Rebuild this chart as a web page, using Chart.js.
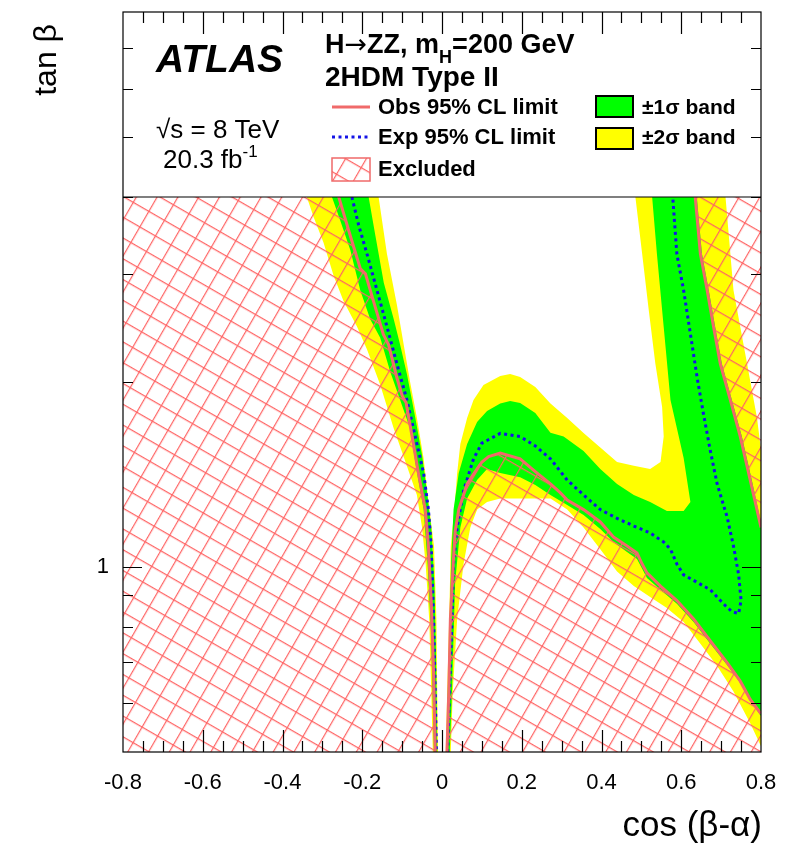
<!DOCTYPE html>
<html>
<head>
<meta charset="utf-8">
<title>H to ZZ 2HDM Type II limits</title>
<script src="https://cdn.jsdelivr.net/npm/chart.js@4.4.0/dist/chart.umd.min.js"></script>
<style>
	html, body { margin: 0; padding: 0; background: #fff; }
	canvas { display: block; }
</style>
</head>
<body>
<canvas id="limitChart" width="806" height="849"></canvas>
<script>
"use strict";

// axis ranges and tick values
var xMin = -0.8, xMax = 0.8, yMin = 0.5, yMax = 8, yBox = 4, yTop = 4.3;
var xTickVals = [-0.8, -0.6, -0.4, -0.2, 0, 0.2, 0.4, 0.6, 0.8];
var xTickLabels = ["-0.8", "-0.6", "-0.4", "-0.2", "0", "0.2", "0.4", "0.6", "0.8"];
var yTickVals = [0.6, 0.7, 0.8, 0.9, 1, 2, 3, 4, 5, 6, 7];
var yLabelVals = [1];

// observed limit, left branch (top -> bottom)
var obsLeftX = [-0.265, -0.259, -0.230, -0.205, -0.192, -0.172, -0.147, -0.134, -0.113, -0.100, -0.090, -0.075, -0.059, -0.042, -0.034, -0.027, -0.021, -0.017];
var obsLeftY = [4.3, 4.0, 3.46, 3.06, 3.00, 2.71, 2.39, 2.30, 2.03, 1.90, 1.85, 1.63, 1.42, 1.24, 1.08, 0.88, 0.67, 0.5];

// observed limit, right branch (bottom -> right edge)
var obsRightX = [0.0125, 0.017, 0.021, 0.028, 0.033, 0.042, 0.063, 0.088, 0.100, 0.117, 0.146, 0.196, 0.234, 0.272, 0.297, 0.314, 0.355, 0.397, 0.430, 0.464, 0.489, 0.502, 0.514, 0.548, 0.589, 0.631, 0.673, 0.715, 0.748, 0.773, 0.8];
var obsRightY = [0.5, 0.626, 0.823, 1.011, 1.144, 1.24, 1.365, 1.444, 1.482, 1.513, 1.533, 1.50, 1.43, 1.365, 1.32, 1.285, 1.24, 1.184, 1.119, 1.082, 1.054, 1.011, 0.978, 0.931, 0.882, 0.823, 0.758, 0.699, 0.652, 0.609, 0.577];

// observed limit, upper right branch (top -> right edge)
var obsTopX = [0.631, 0.635, 0.648, 0.665, 0.681, 0.698, 0.723, 0.748, 0.773, 0.8];
var obsTopY = [4.3, 4.0, 3.23, 2.82, 2.46, 2.14, 1.87, 1.63, 1.384, 1.16];

// expected limit
var expLeftX = [-0.232, -0.226, -0.209, -0.188, -0.163, -0.138, -0.113, -0.088, -0.067, -0.046, -0.034, -0.027, -0.021, -0.017, -0.014];
var expLeftY = [4.3, 4.0, 3.60, 3.23, 2.82, 2.46, 2.14, 1.87, 1.63, 1.42, 1.24, 1.08, 0.82, 0.63, 0.5];
var expRightX = [0.014, 0.019, 0.025, 0.029, 0.038, 0.054, 0.079, 0.100, 0.146, 0.196, 0.234, 0.272, 0.314, 0.355, 0.397, 0.439, 0.481, 0.522, 0.556, 0.573, 0.589, 0.606, 0.640, 0.673, 0.706, 0.727, 0.744, 0.750, 0.744, 0.731, 0.715, 0.690, 0.673, 0.656, 0.640, 0.623, 0.606, 0.589, 0.579, 0.575];
var expRightY = [0.5, 0.63, 0.82, 1.01, 1.16, 1.33, 1.50, 1.59, 1.65, 1.63, 1.574, 1.50, 1.385, 1.31, 1.24, 1.20, 1.166, 1.136, 1.098, 1.069, 1.011, 0.971, 0.944, 0.918, 0.871, 0.846, 0.840, 0.882, 0.971, 1.082, 1.206, 1.365, 1.545, 1.770, 2.030, 2.394, 2.818, 3.23, 3.97, 4.3];

// +-1 sigma band outlines
var greenLeftX = [-0.282, -0.276, -0.255, -0.230, -0.205, -0.180, -0.155, -0.130, -0.105, -0.080, -0.064, -0.046, -0.036, -0.027, -0.020, -0.012, -0.015, -0.019, -0.027, -0.038, -0.050, -0.067, -0.088, -0.105, -0.121, -0.146, -0.167, -0.184, -0.190];
var greenLeftY = [4.3, 4.0, 3.66, 3.28, 2.82, 2.53, 2.36, 2.08, 1.87, 1.68, 1.44, 1.24, 1.01, 0.77, 0.5, 0.5, 0.72, 0.94, 1.16, 1.33, 1.52, 1.75, 2.06, 2.30, 2.53, 2.90, 3.46, 4.0, 4.3];
var greenRightX = [0.640, 0.639, 0.652, 0.669, 0.685, 0.702, 0.727, 0.752, 0.777, 0.8, 0.8, 0.773, 0.748, 0.715, 0.673, 0.631, 0.589, 0.548, 0.514, 0.502, 0.489, 0.464, 0.430, 0.397, 0.355, 0.314, 0.272, 0.234, 0.196, 0.146, 0.113, 0.088, 0.063, 0.046, 0.033, 0.025, 0.0195, 0.011, 0.0145, 0.0195, 0.023, 0.029, 0.042, 0.063, 0.088, 0.113, 0.146, 0.171, 0.196, 0.234, 0.272, 0.305, 0.355, 0.397, 0.439, 0.481, 0.522, 0.564, 0.606, 0.623, 0.606, 0.573, 0.556, 0.539, 0.527, 0.525];
var greenRightY = [4.3, 4.0, 3.23, 2.82, 2.46, 2.14, 1.87, 1.63, 1.384, 1.18, 0.572, 0.605, 0.648, 0.693, 0.750, 0.814, 0.871, 0.918, 0.960, 0.993, 1.030, 1.058, 1.098, 1.153, 1.215, 1.261, 1.31, 1.36, 1.40, 1.422, 1.444, 1.385, 1.292, 1.159, 0.944, 0.626, 0.5, 0.5, 0.626, 0.823, 1.023, 1.24, 1.422, 1.585, 1.722, 1.794, 1.845, 1.863, 1.849, 1.781, 1.653, 1.631, 1.545, 1.444, 1.365, 1.310, 1.276, 1.233, 1.233, 1.276, 1.504, 1.870, 2.458, 3.23, 4.0, 4.3];

// +-2 sigma band outlines
var yellowLeftX = [-0.345, -0.339, -0.322, -0.297, -0.272, -0.247, -0.213, -0.188, -0.155, -0.121, -0.088, -0.063, -0.050, -0.041, -0.032, -0.027, -0.023, -0.010, -0.012, -0.014, -0.020, -0.034, -0.046, -0.063, -0.080, -0.096, -0.113, -0.138, -0.159, -0.165];
var yellowLeftY = [4.3, 4.0, 3.71, 3.37, 2.98, 2.71, 2.46, 2.26, 1.98, 1.68, 1.46, 1.31, 1.16, 1.01, 0.82, 0.63, 0.5, 0.5, 0.63, 0.82, 1.08, 1.28, 1.50, 1.75, 2.00, 2.30, 2.67, 3.23, 4.0, 4.3];
var yellowRightX = [0.715, 0.711, 0.731, 0.765, 0.790, 0.8, 0.8, 0.773, 0.731, 0.690, 0.648, 0.606, 0.564, 0.522, 0.481, 0.439, 0.397, 0.355, 0.314, 0.272, 0.146, 0.113, 0.088, 0.071, 0.054, 0.038, 0.027, 0.022, 0.0095, 0.013, 0.018, 0.022, 0.031, 0.038, 0.046, 0.063, 0.079, 0.104, 0.146, 0.171, 0.196, 0.234, 0.272, 0.314, 0.355, 0.397, 0.439, 0.481, 0.522, 0.548, 0.556, 0.552, 0.535, 0.518, 0.502, 0.485, 0.482];
var yellowRightY = [4.3, 4.0, 2.82, 2.144, 1.748, 1.55, 0.511, 0.557, 0.627, 0.690, 0.750, 0.814, 0.858, 0.894, 0.931, 0.983, 1.069, 1.159, 1.24, 1.292, 1.292, 1.276, 1.24, 1.159, 1.011, 0.823, 0.626, 0.5, 0.5, 0.626, 0.823, 1.082, 1.24, 1.422, 1.585, 1.748, 1.870, 1.978, 2.046, 2.061, 2.038, 1.963, 1.845, 1.748, 1.652, 1.565, 1.482, 1.462, 1.444, 1.482, 1.631, 1.821, 2.144, 2.633, 3.23, 4.0, 4.3];

var FONT = "'Liberation Sans', Arial, Helvetica, sans-serif";
var RED = "#f06a6a";
var HATCH = "#ff6464";
var BLUE = "#1414e6";

function pts(xs, ys) {
	return xs.map(function (x, i) { return { x: x, y: ys[i] }; });
}

function makeHatch(step) {
	var tile = document.createElement("canvas");
	tile.width = step;
	tile.height = step;
	var c = tile.getContext("2d");
	c.strokeStyle = HATCH;
	c.lineWidth = 1.2;
	c.beginPath();
	c.moveTo(0, 0.6);
	c.lineTo(step, 0.6);
	c.moveTo(0.6, 0);
	c.lineTo(0.6, step);
	c.stroke();
	var pat = document.createElement("canvas").getContext("2d").createPattern(tile, "repeat");
	pat.setTransform(new DOMMatrix().rotate(30));
	return pat;
}
var hatch = makeHatch(18);

// excluded regions = area beyond the observed limit
var exclLeft = [{ x: xMin, y: yTop }].concat(pts(obsLeftX, obsLeftY), [{ x: xMin, y: yMin }]);
var exclRight = pts(obsRightX, obsRightY).concat([{ x: xMax, y: yMin }]);
var exclTop = pts(obsTopX, obsTopY).concat([{ x: xMax, y: yTop }]);

function area(data, color) {
	return { data: data, showLine: true, fill: "shape", backgroundColor: color, borderWidth: 0, pointRadius: 0 };
}
function curve(data, color, dash) {
	return { data: data, showLine: true, fill: false, borderColor: color, borderWidth: 3, borderDash: dash || [], pointRadius: 0 };
}

// draws text runs one after another: [text, font, baseline shift]
function runs(ctx, x, y, parts) {
	parts.forEach(function (p) {
		ctx.font = p[1];
		ctx.fillText(p[0], x, y + (p[2] || 0));
		x += ctx.measureText(p[0]).width;
	});
}

// tick marks, frame, legend box and labels (ROOT style)
var atlasFrame = {
	id: "atlasFrame",
	afterDatasetsDraw: function (chart) {
		var ctx = chart.ctx;
		var a = chart.chartArea;
		var yb = chart.scales.y.getPixelForValue(yBox);
		ctx.save();
		ctx.fillStyle = "#fff";
		ctx.fillRect(a.left, a.top, a.right - a.left, yb - a.top);
		ctx.strokeStyle = "#000";
		ctx.lineWidth = 1.2;
		ctx.beginPath();
		ctx.moveTo(a.left, yb);
		ctx.lineTo(a.right, yb);
		ctx.stroke();

		ctx.fillStyle = "#000";
		ctx.textAlign = "left";
		ctx.textBaseline = "alphabetic";
		ctx.font = "italic bold 39px " + FONT;
		ctx.fillText("ATLAS", 156, 72);

		runs(ctx, 156, 138, [["\u221As = 8 TeV", "26px " + FONT]]);
		runs(ctx, 163, 168, [["20.3 fb", "26px " + FONT], ["-1", "17px " + FONT, -11]]);

		var b27 = "bold 27px " + FONT;
		runs(ctx, 325, 53, [
			["H", b27],
			["\u2192", "27px 'DejaVu Sans', sans-serif"],
			["ZZ, m", b27],
			["H", "bold 18px " + FONT, 10],
			["=200 GeV", b27],
		]);
		runs(ctx, 325, 86, [["2HDM Type II", "bold 28px " + FONT]]);

		// legend entries
		ctx.font = "bold 22px " + FONT;
		ctx.fillText("Obs 95% CL limit", 378, 114);
		ctx.fillText("Exp 95% CL limit", 378, 144);
		ctx.fillText("Excluded", 378, 176);
		ctx.font = "bold 21px " + FONT;
		ctx.fillText("\u00B11\u03C3 band", 642, 114);
		ctx.fillText("\u00B12\u03C3 band", 642, 144);

		ctx.lineWidth = 3;
		ctx.strokeStyle = RED;
		ctx.beginPath();
		ctx.moveTo(332, 107);
		ctx.lineTo(370, 107);
		ctx.stroke();
		ctx.strokeStyle = BLUE;
		ctx.setLineDash([3, 3.5]);
		ctx.beginPath();
		ctx.moveTo(332, 137);
		ctx.lineTo(370, 137);
		ctx.stroke();
		ctx.setLineDash([]);

		ctx.fillStyle = hatch;
		ctx.fillRect(332, 158, 38, 23);
		ctx.strokeStyle = RED;
		ctx.lineWidth = 1.5;
		ctx.strokeRect(332, 158, 38, 23);

		ctx.lineWidth = 2;
		ctx.strokeStyle = "#000";
		ctx.fillStyle = "#00ff00";
		ctx.fillRect(596, 96, 37, 21);
		ctx.strokeRect(596, 96, 37, 21);
		ctx.fillStyle = "#ffff00";
		ctx.fillRect(596, 128, 37, 21);
		ctx.strokeRect(596, 128, 37, 21);
		ctx.restore();
	},
	afterDraw: function (chart) {
		var ctx = chart.ctx;
		var a = chart.chartArea;
		var xs = chart.scales.x;
		var ys = chart.scales.y;
		ctx.save();
		ctx.strokeStyle = "#000";
		ctx.lineWidth = 1.2;
		ctx.strokeRect(a.left, a.top, a.right - a.left, a.bottom - a.top);
		ctx.beginPath();
		for (var v = xMin + 0.05; v < xMax - 0.01; v += 0.05) {
			var major = xTickVals.some(function (t) { return Math.abs(t - v) < 1e-6; });
			var len = major ? 22 : 11;
			var px = Math.round(xs.getPixelForValue(v)) + 0.5;
			ctx.moveTo(px, a.bottom);
			ctx.lineTo(px, a.bottom - len);
			ctx.moveTo(px, a.top);
			ctx.lineTo(px, a.top + len);
		}
		yTickVals.forEach(function (t) {
			var len = yLabelVals.indexOf(t) >= 0 ? 19 : 10;
			var py = Math.round(ys.getPixelForValue(t)) + 0.5;
			ctx.moveTo(a.left, py);
			ctx.lineTo(a.left + len, py);
			ctx.moveTo(a.right, py);
			ctx.lineTo(a.right - len, py);
		});
		ctx.stroke();

		// axis titles
		ctx.fillStyle = "#000";
		ctx.textAlign = "right";
		ctx.textBaseline = "alphabetic";
		ctx.font = "35px " + FONT;
		ctx.fillText("cos (\u03B2-\u03B1)", a.right + 1, 836);
		ctx.font = "32px " + FONT;
		ctx.translate(56, 24);
		ctx.rotate(-Math.PI / 2);
		ctx.fillText("tan \u03B2", 0, 0);
		ctx.restore();
	}
};

// Initialize limit chart
function initLimitChart() {
	var limitChart = document.getElementById("limitChart");
	new Chart(limitChart, {
		type: "scatter",
		data: {
			datasets: [
				curve(pts(obsLeftX, obsLeftY), RED),
				curve(pts(obsRightX, obsRightY), RED),
				curve(pts(obsTopX, obsTopY), RED),
				area(exclLeft, hatch),
				area(exclRight, hatch),
				area(exclTop, hatch),
				curve(pts(expLeftX, expLeftY), BLUE, [3, 3.5]),
				curve(pts(expRightX, expRightY), BLUE, [3, 3.5]),
				area(pts(greenLeftX, greenLeftY), "#00ff00"),
				area(pts(greenRightX, greenRightY), "#00ff00"),
				area(pts(yellowLeftX, yellowLeftY), "#ffff00"),
				area(pts(yellowRightX, yellowRightY), "#ffff00"),
			],
		},
		options: {
			responsive: false,
			animation: false,
			devicePixelRatio: 1,
			layout: {
				padding: { top: 12, right: 45, left: 0, bottom: 0 },
			},
			elements: {
				line: { tension: 0 },
			},
			scales: {
				x: {
					type: "linear",
					min: xMin,
					max: xMax,
					grid: { display: false, drawTicks: false },
					border: { display: false },
					afterBuildTicks: function (scale) {
						scale.ticks = xTickVals.map(function (v) { return { value: v }; });
					},
					afterFit: function (scale) {
						scale.height = 97;
						scale.paddingLeft = 0;
						scale.paddingRight = 0;
					},
					ticks: {
						autoSkip: false,
						maxRotation: 0,
						padding: 18,
						color: "#000",
						font: { family: FONT, size: 22 },
						callback: function (value, index) {
							return xTickLabels[index];
						},
					},
				},
				y: {
					type: "logarithmic",
					min: yMin,
					max: yMax,
					grid: { display: false, drawTicks: false },
					border: { display: false },
					afterBuildTicks: function (scale) {
						scale.ticks = yLabelVals.map(function (v) { return { value: v }; });
					},
					afterFit: function (scale) {
						scale.width = 123;
						scale.paddingTop = 0;
						scale.paddingBottom = 0;
					},
					ticks: {
						autoSkip: false,
						padding: 14,
						color: "#000",
						font: { family: FONT, size: 22 },
						callback: function (value) {
							return String(value);
						},
					},
				},
			},
			plugins: {
				legend: { display: false },
				tooltip: { enabled: false },
			},
		},
		plugins: [atlasFrame],
	});
}

(function () {
	initLimitChart();
})();
</script>
</body>
</html>
